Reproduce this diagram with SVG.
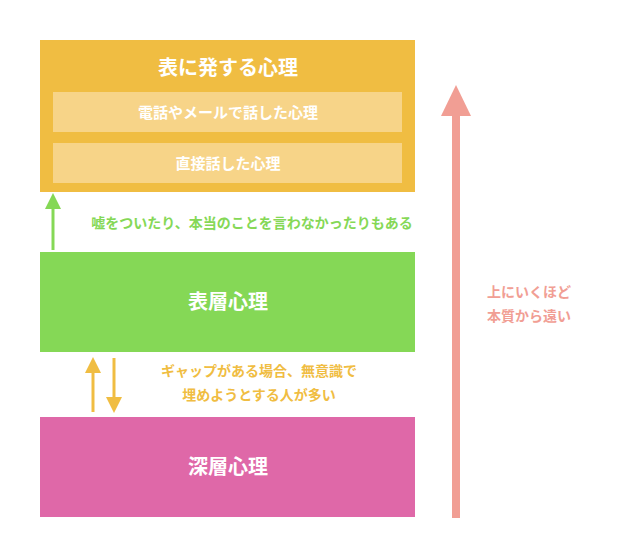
<svg xmlns="http://www.w3.org/2000/svg" width="618" height="558" viewBox="0 0 618 558">
<style>
text{font-family:"Noto Sans CJK JP","Noto Sans CJK SC",sans-serif;font-weight:bold;text-anchor:middle}
.w{fill:#fff}
.in{fill:#F7D488}
</style>
<rect width="618" height="558" fill="#fff"/>
<g id="surface">
<rect x="40" y="40" width="375" height="152" fill="#F0BD42"/>
<text class="w" x="228" y="75" font-size="20">表に発する心理</text>
</g>
<g id="phone">
<rect class="in" x="53" y="92" width="349" height="40"/>
<text class="w" x="228" y="118" font-size="15">電話やメールで話した心理</text>
</g>
<g id="direct">
<rect class="in" x="53" y="143" width="349" height="40"/>
<text class="w" x="228" y="169" font-size="15">直接話した心理</text>
</g>
<g id="shallow">
<rect x="40" y="252" width="375" height="100" fill="#85D856"/>
<text class="w" x="228" y="309" font-size="20">表層心理</text>
</g>
<g id="deep">
<rect x="40" y="417" width="375" height="100" fill="#DF68A8"/>
<text class="w" x="228" y="474" font-size="20">深層心理</text>
</g>
<g id="connectors">
<line x1="53" y1="250" x2="53" y2="205" stroke="#85D856" stroke-width="3"/>
<polygon points="53,193 61,209 45,209" fill="#85D856"/>
<line x1="93" y1="412" x2="93" y2="370" stroke="#F0BD42" stroke-width="3"/>
<polygon points="93,357 101,373 85,373" fill="#F0BD42"/>
<line x1="114" y1="358" x2="114" y2="400" stroke="#F0BD42" stroke-width="3"/>
<polygon points="114,413 122,397 106,397" fill="#F0BD42"/>
<line x1="456" y1="518" x2="456" y2="110" stroke="#F19E94" stroke-width="8"/>
<polygon points="456,85 471,116 441,116" fill="#F19E94"/>
</g>
<g id="labels">
<text x="252" y="228" font-size="14" fill="#85D856">嘘をついたり、本当のことを言わなかったりもある</text>
<text x="259" y="376" font-size="14" fill="#F0BD42">ギャップがある場合、無意識で</text>
<text x="259" y="400" font-size="14" fill="#F0BD42">埋めようとする人が多い</text>
<text x="529" y="297" font-size="14" fill="#F19E94">上にいくほど</text>
<text x="529" y="321" font-size="14" fill="#F19E94">本質から遠い</text>
</g>
</svg>
